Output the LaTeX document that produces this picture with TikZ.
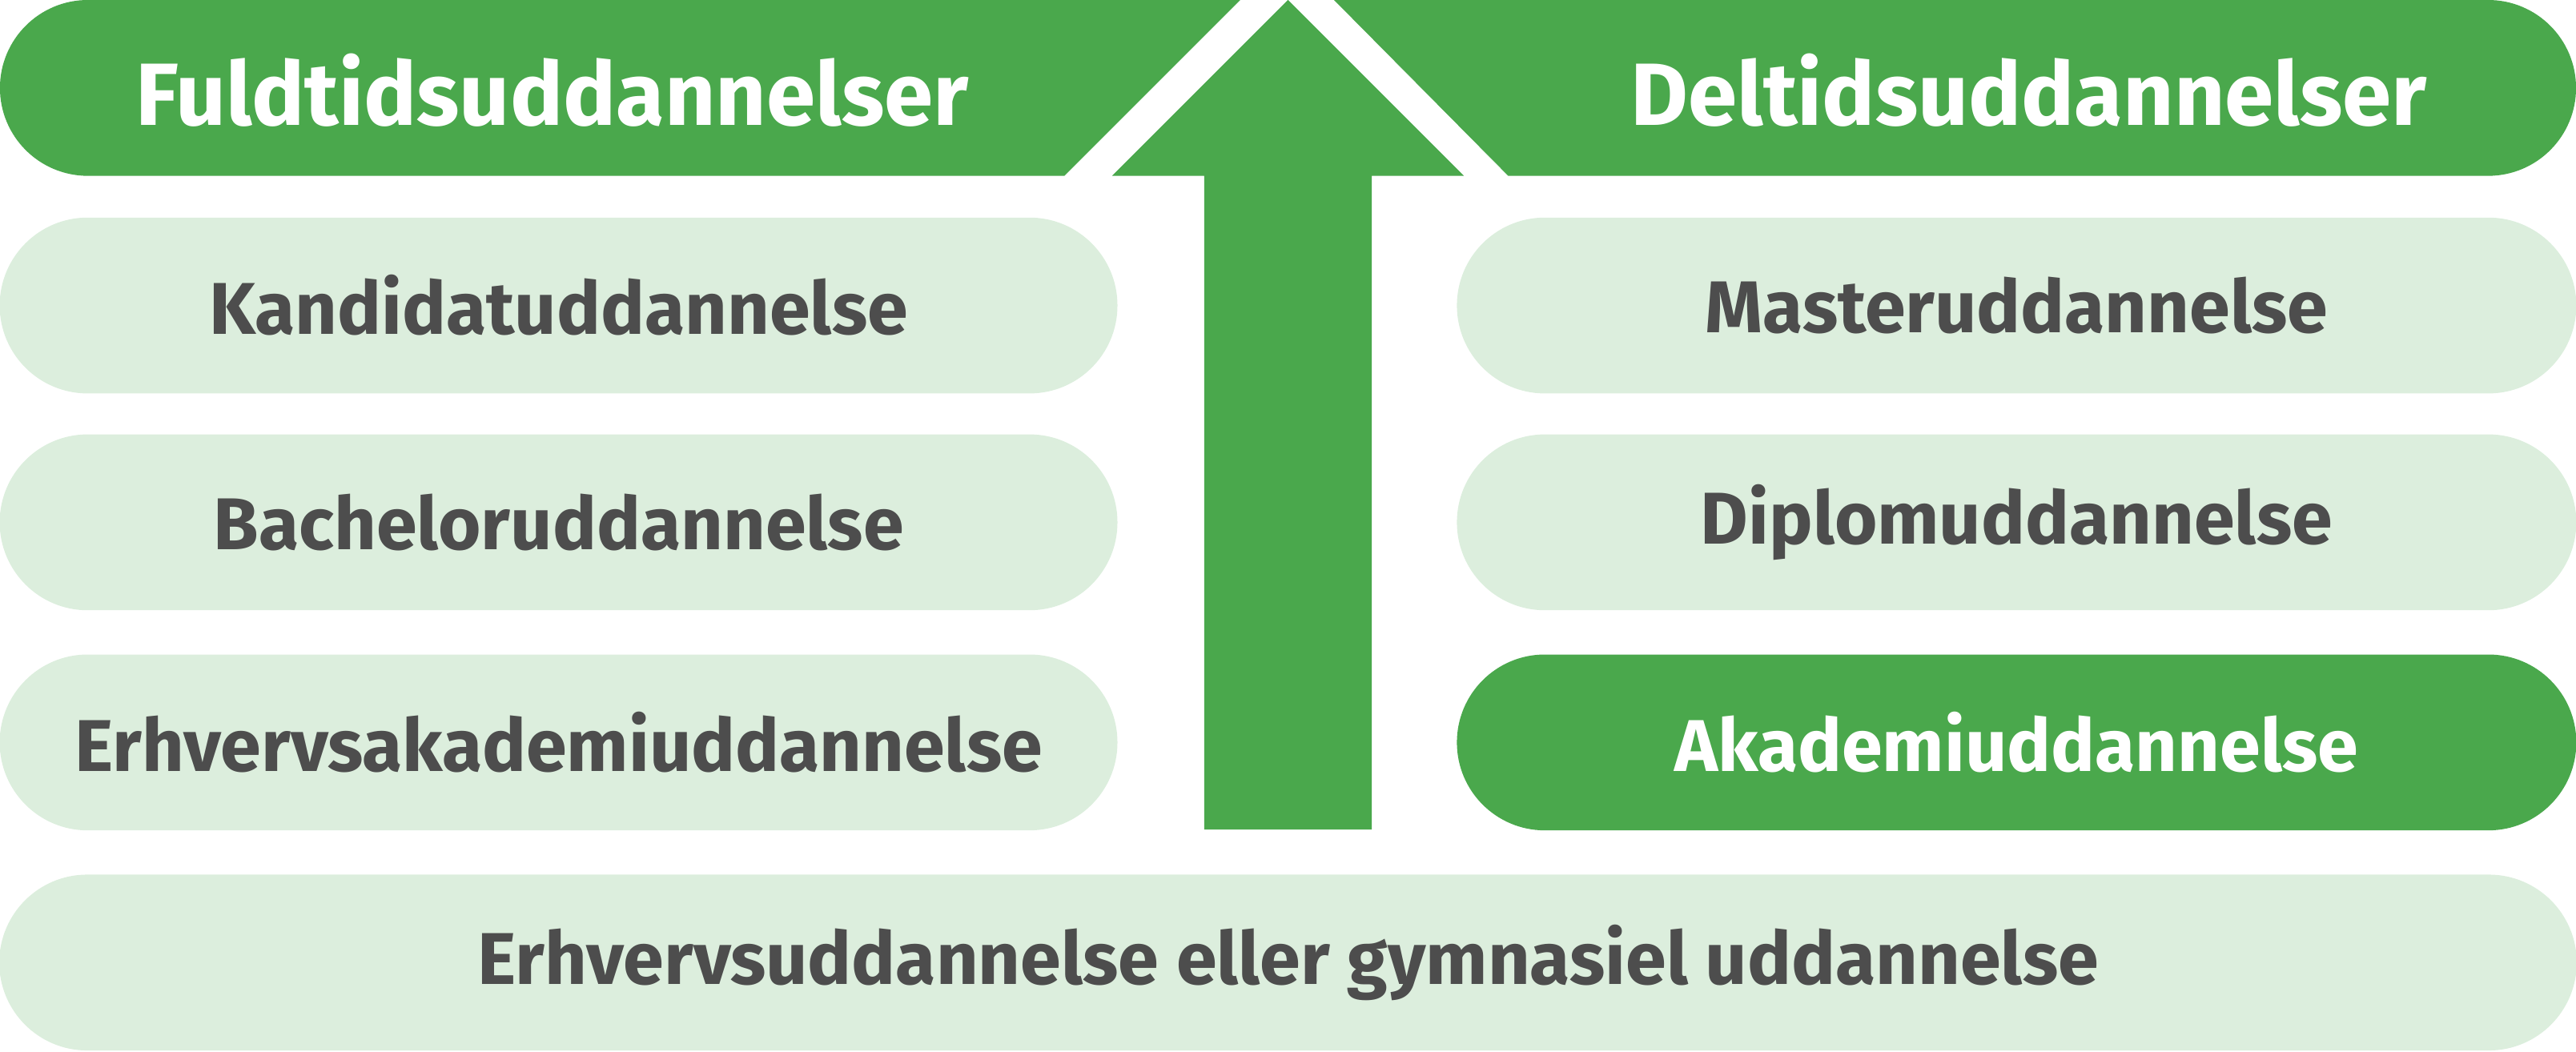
\documentclass[tikz,border=0pt]{standalone}
\usepackage{fontspec}
\setmainfont{Fira Sans}
\definecolor{dg}{HTML}{4AA84C}
\definecolor{lg}{HTML}{DCEEDD}
\definecolor{tx}{HTML}{4D4D4D}
\begin{document}
\begin{tikzpicture}[x=0.01cm,y=-0.01cm,
  pill/.style={draw=none,fill=lg,rounded corners=0.535cm,minimum height=1.07cm,inner sep=0pt,text=tx,font=\fontsize{12.7}{15}\selectfont\bfseries},
  head/.style={text=white,font=\fontsize{15.3}{18}\selectfont\bfseries}]
\useasboundingbox (0,0) rectangle (1568,640);
\fill[dg] (755,0) -- (53.5,0) arc[start angle=90,end angle=270,radius=0.535cm] -- (648,107) -- cycle;
\fill[dg] (812,0) -- (1514.5,0) arc[start angle=90,end angle=-90,radius=0.535cm] -- (918,107) -- cycle;
\fill[dg] (784,0) -- (891,107) -- (835,107) -- (835,505) -- (733,505) -- (733,107) -- (677,107) -- cycle;
\node[head] (h1) at (336,55) {Fuldtidsuddannelser};
\node[head] (h2) at (1235,55) {Deltidsuddannelser};
\node[pill,minimum width=6.8cm] (k) at (340,186) {Kandidatuddannelse};
\node[pill,minimum width=6.8cm] (b) at (340,318) {Bacheloruddannelse};
\node[pill,minimum width=6.8cm] (e) at (340,452) {Erhvervsakademiuddannelse};
\node[pill,minimum width=6.81cm] (m) at (1227.5,186) {Masteruddannelse};
\node[pill,minimum width=6.81cm] (d) at (1227.5,318) {Diplomuddannelse};
\node[pill,minimum width=6.81cm,fill=dg,text=white] (a) at (1227.5,452) {Akademiuddannelse};
\node[pill,minimum width=15.68cm] (g) at (784,586) {Erhvervsuddannelse eller gymnasiel uddannelse};
\end{tikzpicture}
\end{document}
